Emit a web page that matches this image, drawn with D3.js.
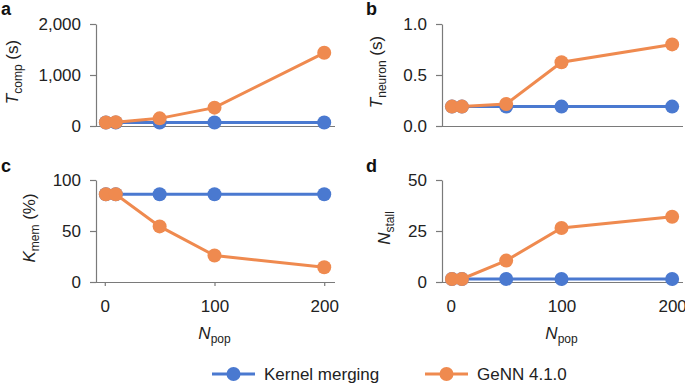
<!DOCTYPE html>
<html>
<head>
<meta charset="utf-8">
<script src="https://cdn.jsdelivr.net/npm/d3@7"></script>
<style>
  body { margin: 0; background: #fff; }
  svg { font-family: "Liberation Sans", Arial, sans-serif; }
</style>
</head>
<body>
<svg id="chart" width="685" height="384"></svg>
<script>
// population sizes (x values)
var nPop = [1, 10, 50, 100, 200];

// a: compile time (s)
var tCompMerged = [70, 70, 70, 70, 70];
var tCompGenn = [70, 75, 150, 360, 1435];
// b: neuron time (s)
var tNeuronMerged = [0.19, 0.19, 0.19, 0.19, 0.19];
var tNeuronGenn = [0.19, 0.19, 0.215, 0.625, 0.80];
// c: memory (%)
var kMemMerged = [86, 86, 86, 86, 86];
var kMemGenn = [86, 86, 54.5, 26, 14.5];
// d: stalls
var nStallMerged = [1.5, 1.5, 1.5, 1.5, 1.5];
var nStallGenn = [1.5, 1.5, 10.5, 26.5, 32];

var seriesNames = ["Kernel merging", "GeNN 4.1.0"];
var colors = ["#4a79d0", "#ef8a4f"];

var svg = d3.select("#chart");

var panels = [
    {letter: "a", left: 96, right: 335, top: 24, bottom: 126, xMin: -8, xMax: 208,
     yMax: 2000, yTicks: [0, 1000, 2000], fmt: d3.format(","), xLabels: false,
     yName: "T", ySub: "comp", yUnit: " (s)", labelX: 18, letterX: 1, letterY: 15,
     data: [tCompMerged, tCompGenn]},
    {letter: "b", left: 442, right: 683, top: 24, bottom: 126, xMin: -8, xMax: 208,
     yMax: 1, yTicks: [0, 0.5, 1], fmt: d3.format(".1f"), xLabels: false,
     yName: "T", ySub: "neuron", yUnit: " (s)", labelX: 382, letterX: 366, letterY: 15,
     data: [tNeuronMerged, tNeuronGenn]},
    {letter: "c", left: 96, right: 335, top: 180, bottom: 282, xMin: -8, xMax: 208,
     yMax: 100, yTicks: [0, 50, 100], fmt: d3.format("d"), xLabels: true,
     yName: "K", ySub: "mem", yUnit: " (%)", labelX: 35, letterX: 1, letterY: 172,
     data: [kMemMerged, kMemGenn]},
    {letter: "d", left: 442, right: 683, top: 180, bottom: 282, xMin: -8, xMax: 208,
     yMax: 50, yTicks: [0, 25, 50], fmt: d3.format("d"), xLabels: true,
     yName: "N", ySub: "stall", yUnit: "", labelX: 390, letterX: 366, letterY: 172,
     data: [nStallMerged, nStallGenn]}
];

panels.forEach(function(p) {
    var x = d3.scaleLinear().domain([p.xMin, p.xMax]).range([p.left, p.right - 2]);
    var y = d3.scaleLinear().domain([0, p.yMax]).range([p.bottom, p.top]);

    var g = svg.append("g");

    // y axis
    var yAxis = g.append("g")
        .attr("transform", "translate(" + p.left + ",0)")
        .call(d3.axisLeft(y).tickValues(p.yTicks).tickFormat(p.fmt)
            .tickSize(6).tickSizeOuter(0).tickPadding(9));

    // x axis
    var xAxis = g.append("g")
        .attr("transform", "translate(0," + p.bottom + ")")
        .call(d3.axisBottom(x).tickValues(p.xLabels ? [0, 100, 200] : [])
            .tickSize(4).tickSizeOuter(0).tickPadding(14));
    xAxis.select(".domain").attr("d", "M" + p.left + ",0.5H" + p.right);

    [yAxis, xAxis].forEach(function(ax) {
        ax.select(".domain").attr("stroke", "#7a7a7a").attr("stroke-width", 1.2);
        ax.selectAll(".tick line").attr("stroke", "#7a7a7a").attr("stroke-width", 1.2);
        ax.selectAll("text").attr("font-size", 17).attr("fill", "#222")
            .attr("font-family", "Liberation Sans, Arial, sans-serif");
    });

    // lines + markers
    p.data.forEach(function(vals, si) {
        var pts = nPop.map(function(n, i) { return [n, vals[i]]; });
        var line = d3.line()
            .x(function(d) { return x(d[0]); })
            .y(function(d) { return y(d[1]); });
        g.append("path")
            .datum(pts)
            .attr("d", line)
            .attr("fill", "none")
            .attr("stroke", colors[si])
            .attr("stroke-width", 3);
        g.selectAll(".pt" + si)
            .data(pts)
            .enter()
            .append("circle")
            .attr("class", "pt" + si)
            .attr("cx", function(d) { return x(d[0]); })
            .attr("cy", function(d) { return y(d[1]); })
            .attr("r", 7)
            .attr("fill", colors[si]);
    });

    // panel letter
    svg.append("text")
        .attr("x", p.letterX).attr("y", p.letterY)
        .attr("font-size", 18).attr("font-weight", "bold")
        .attr("fill", "#111")
        .text(p.letter);

    // y label
    var cy = (p.top + p.bottom) / 2;
    var yl = svg.append("text")
        .attr("transform", "translate(" + p.labelX + "," + (cy - 3) + ") rotate(-90)")
        .attr("text-anchor", "middle")
        .attr("font-size", 17).attr("fill", "#222");
    yl.append("tspan").attr("font-style", "italic").text(p.yName);
    yl.append("tspan").attr("font-size", 12).attr("dy", 4).text(p.ySub);
    yl.append("tspan").attr("dy", -4).text(p.yUnit);

    // x label
    if (p.xLabels) {
        var xl = svg.append("text")
            .attr("x", x(100)).attr("y", 339)
            .attr("text-anchor", "middle")
            .attr("font-size", 17).attr("fill", "#222");
        xl.append("tspan").attr("font-style", "italic").text("N");
        xl.append("tspan").attr("font-size", 12).attr("dy", 4).text("pop");
    }
});

// legend
var legendX = [212, 425];
seriesNames.forEach(function(name, i) {
    var lg = svg.append("g").attr("transform", "translate(" + legendX[i] + ",374)");
    lg.append("line").attr("x1", 0).attr("x2", 43).attr("y1", 0).attr("y2", 0)
        .attr("stroke", colors[i]).attr("stroke-width", 3);
    lg.append("circle").attr("cx", 21.5).attr("cy", 0).attr("r", 7).attr("fill", colors[i]);
    lg.append("text").attr("x", 52).attr("y", 6)
        .attr("font-size", 17).attr("fill", "#222").text(name);
});
</script>
</body>
</html>
